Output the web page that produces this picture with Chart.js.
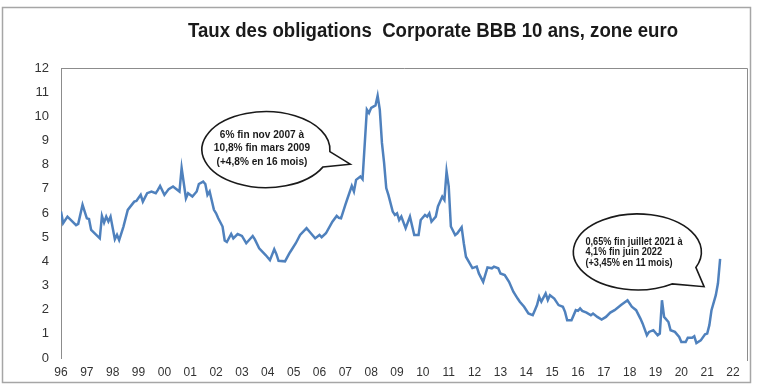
<!DOCTYPE html>
<html>
<head>
<meta charset="utf-8">
<script src="https://cdn.jsdelivr.net/npm/chart.js@4.4.1/dist/chart.umd.min.js"></script>
<style>
  html, body { margin: 0; padding: 0; background: #fff; }
  #wrap { width: 760px; height: 391px; }
</style>
</head>
<body>
<div id="wrap"><canvas id="bbbChart" width="760" height="391"></canvas></div>
<script>
// month-end readings, BBB 10y corporate yield (%), euro area
const months = [
  '1996-12', '1997-01', '1997-03', '1997-07', '1997-08', '1997-10', '1997-12',
  '1998-01', '1998-02', '1998-06', '1998-07', '1998-08', '1998-09', '1998-10', '1998-11',
  '1999-01', '1999-02', '1999-03', '1999-05', '1999-07', '1999-10', '1999-11',
  '2000-01', '2000-02', '2000-04', '2000-06', '2000-08', '2000-09', '2000-10', '2000-12',
  '2001-02', '2001-04', '2001-07', '2001-08', '2001-10', '2001-11',
  '2002-01', '2002-03', '2002-04', '2002-06', '2002-07', '2002-08', '2002-09', '2002-11', '2002-12',
  '2003-01', '2003-03', '2003-04', '2003-05', '2003-07', '2003-08', '2003-10', '2003-12',
  '2004-02', '2004-05', '2004-06', '2004-08', '2004-11',
  '2005-01', '2005-03', '2005-04', '2005-05', '2005-08', '2005-10', '2005-11',
  '2006-01', '2006-03', '2006-06', '2006-08', '2006-10', '2006-12',
  '2007-01', '2007-03', '2007-06', '2007-08', '2007-09', '2007-10', '2007-12',
  '2008-01', '2008-03', '2008-04', '2008-05', '2008-07', '2008-08', '2008-10', '2008-11', '2008-12',
  '2009-02', '2009-03', '2009-04', '2009-05', '2009-06', '2009-07', '2009-08', '2009-10', '2009-11', '2009-12',
  '2010-01', '2010-02', '2010-04', '2010-06', '2010-08', '2010-10', '2010-11',
  '2011-01', '2011-02', '2011-03', '2011-04', '2011-06', '2011-07', '2011-09', '2011-10', '2011-11', '2011-12',
  '2012-01', '2012-03', '2012-04', '2012-06', '2012-07', '2012-08', '2012-11',
  '2013-01', '2013-02', '2013-04', '2013-06', '2013-08', '2013-09', '2013-11', '2013-12',
  '2014-02', '2014-04', '2014-06', '2014-08', '2014-09', '2014-11',
  '2015-01', '2015-03', '2015-04', '2015-05', '2015-06', '2015-07', '2015-09', '2015-10', '2015-11',
  '2016-01', '2016-03', '2016-05', '2016-06', '2016-07', '2016-09', '2016-11', '2016-12',
  '2017-01', '2017-02', '2017-04', '2017-06', '2017-07', '2017-09', '2017-11',
  '2018-01', '2018-03', '2018-05', '2018-07', '2018-08', '2018-11',
  '2019-01', '2019-03', '2019-05', '2019-06', '2019-08', '2019-09', '2019-11',
  '2020-01', '2020-02', '2020-03', '2020-04', '2020-06', '2020-07', '2020-09', '2020-11', '2020-12',
  '2021-02', '2021-03', '2021-05', '2021-06', '2021-07', '2021-09', '2021-11', '2021-12',
  '2022-01', '2022-02', '2022-04', '2022-05', '2022-06'
];
const rates = [
  6.06, 5.58, 5.85, 5.5, 5.55, 6.34, 5.78,
  5.75, 5.3, 4.95, 5.88, 5.6, 5.85, 5.65, 5.85,
  4.91, 5.1, 4.88, 5.44, 6.13, 6.47, 6.5,
  6.75, 6.47, 6.82, 6.89, 6.82, 6.96, 7.12, 6.75,
  6.99, 7.1, 6.89, 7.86, 6.61, 6.82,
  6.68, 6.89, 7.2, 7.3, 7.2, 6.75, 6.89, 6.13, 5.99,
  5.78, 5.44, 4.86, 4.8, 5.13, 4.95, 5.13, 5.05,
  4.75, 5.05, 4.91, 4.54, 4.26,
  4.05, 4.5, 4.3, 4.02, 4.0, 4.33, 4.47,
  4.75, 5.09, 5.37, 5.16, 4.95, 5.09,
  5.0, 5.16, 5.64, 5.88, 5.8, 5.78, 6.34,
  6.6, 7.12, 6.89, 7.37, 7.51, 7.4, 10.28, 10.14, 10.35,
  10.45, 10.85, 10.28, 8.9, 8.07, 7.03, 6.75, 6.06, 5.92, 5.99,
  5.71, 5.85, 5.37, 5.85, 5.09, 5.09, 5.71,
  5.92, 5.85, 5.99, 5.64, 5.85, 6.27, 6.68, 6.54, 7.72, 7.1,
  5.44, 5.09, 5.16, 5.41, 4.75, 4.19, 3.72,
  3.78, 3.5, 3.15, 3.75, 3.71, 3.78, 3.71, 3.5,
  3.43, 3.15, 2.74, 2.46, 2.33, 2.12,
  1.84, 1.77, 1.98, 2.19, 2.53, 2.33, 2.67, 2.4, 2.6,
  2.46, 2.19, 2.12, 1.91, 1.56, 1.56, 1.98, 1.95,
  2.05, 1.95, 1.88, 1.77, 1.84, 1.7, 1.59,
  1.7, 1.88, 1.98, 2.12, 2.19, 2.39,
  2.12, 1.98, 1.63, 1.43, 0.94, 1.08, 1.15,
  0.94, 1.01, 2.39, 1.7, 1.49, 1.15, 1.08, 0.87, 0.66,
  0.66, 0.84, 0.84, 0.9, 0.62, 0.73, 0.98, 1.01,
  1.36, 1.98, 2.6, 3.09, 4.1
];
const yearLabels = ['96', '97', '98', '99', '00', '01', '02', '03', '04', '05', '06', '07', '08',
  '09', '10', '11', '12', '13', '14', '15', '16', '17', '18', '19', '20', '21', '22'];
const chartTitle = 'Taux des obligations  Corporate BBB 10 ans, zone euro';
const crisisNote = ['6% fin nov 2007 à', '10,8% fin mars 2009', '(+4,8% en 16 mois)'];
const recentNote = ['0,65% fin juillet 2021 à', '4,1% fin juin 2022', '(+3,45% en 11 mois)'];

// axis position: years counted from the "96" tick (Dec 1996)
const toPos = m => {
  const [y, mo] = m.split('-').map(Number);
  return ((y - 1996) * 12 + (mo - 12)) / 12;
};
const points = months.map((m, i) => ({ x: toPos(m), y: rates[i] }));

const bubbles = [
  { lines: crisisNote, cx: 7.93, cy: 8.62, rx: 64, ry: 38, a1: 0.47, a2: 0.05, tip: [11.19, 8.02],
    font: 'bold 11px "Liberation Sans", sans-serif', lh: 13.7, align: 'center', tx: -4, ty: -15 },
  { lines: recentNote, cx: 22.3, cy: 4.39, rx: 64, ry: 38, a1: 1.0, a2: 0.42, tip: [24.88, 2.95],
    font: 'bold 10px "Liberation Sans", sans-serif', lh: 10.7, align: 'left', tx: -52, ty: -10 }
];

// narrow look: squeeze text horizontally around its anchor
function squeezeText(c, text, x, y, k) {
  c.save();
  c.translate(x, y);
  c.scale(k, 1);
  c.fillText(text, 0, 0);
  c.restore();
}

const decor = {
  id: 'decor',
  beforeDraw(chart) {
    const c = chart.ctx;
    c.save();
    c.fillStyle = '#fff';
    c.fillRect(0, 0, chart.width, chart.height);
    c.restore();
  },
  afterDraw(chart) {
    const c = chart.ctx;
    const { left, right, top, bottom } = chart.chartArea;
    const xs = chart.scales.x, ys = chart.scales.y;
    c.save();
    // outer frame
    c.strokeStyle = '#a6a6a6';
    c.lineWidth = 1.5;
    c.strokeRect(2.5, 7.5, 748, 375);
    // plot border (top + right)
    c.strokeStyle = '#8c8c8c';
    c.lineWidth = 1;
    c.beginPath();
    c.moveTo(left, top + 0.5);
    c.lineTo(right + 0.5, top + 0.5);
    c.lineTo(right + 0.5, bottom + 3);
    c.stroke();
    // title
    c.fillStyle = '#1a1a1a';
    c.font = 'bold 20px "Liberation Sans", Arial, sans-serif';
    c.textAlign = 'center';
    c.textBaseline = 'middle';
    const tw = c.measureText(chartTitle).width;
    squeezeText(c, chartTitle, 433, 31, Math.min(1, 490 / tw));
    // speech bubbles
    bubbles.forEach(b => {
      const cx = xs.getPixelForValue(b.cx), cy = ys.getPixelForValue(b.cy);
      const tx = xs.getPixelForValue(b.tip[0]), ty = ys.getPixelForValue(b.tip[1]);
      c.beginPath();
      c.ellipse(cx, cy, b.rx, b.ry, 0, b.a1, b.a2 + Math.PI * 2);
      c.lineTo(tx, ty);
      c.closePath();
      c.fillStyle = '#fff';
      c.fill();
      c.strokeStyle = '#1a1a1a';
      c.lineWidth = 1.6;
      c.stroke();
      c.fillStyle = '#1a1a1a';
      c.font = b.font;
      c.textAlign = b.align;
      c.textBaseline = 'middle';
      b.lines.forEach((t, i) => squeezeText(c, t, cx + b.tx, cy + b.ty + i * b.lh, 0.92));
    });
    c.restore();
  }
};

new Chart(document.getElementById('bbbChart'), {
  type: 'line',
  data: {
    datasets: [{
      label: 'BBB 10 ans',
      data: points,
      borderColor: '#4f81bd',
      borderWidth: 2.5,
      pointRadius: 0,
      tension: 0,
      fill: false
    }]
  },
  options: {
    responsive: false,
    animation: false,
    layout: { padding: { top: 68, right: 13, left: 0, bottom: 0 } },
    plugins: { legend: { display: false }, title: { display: false }, tooltip: { enabled: false } },
    scales: {
      x: {
        type: 'linear',
        min: 0,
        max: 26.54,
        grid: { display: false, drawTicks: false },
        border: { display: false },
        afterBuildTicks: s => { s.ticks = yearLabels.map((_, i) => ({ value: i })); },
        afterFit: s => { s.height = 33; },
        ticks: {
          autoSkip: false,
          maxRotation: 0,
          padding: 7,
          color: '#333',
          font: { family: '"Liberation Sans", sans-serif', size: 12 },
          callback: (v, i) => yearLabels[i]
        }
      },
      y: {
        min: 0,
        max: 12,
        grid: { display: false, drawTicks: false },
        border: { display: true, color: '#8c8c8c', width: 1 },
        afterFit: s => { s.width = 61; },
        ticks: {
          stepSize: 1,
          padding: 12,
          color: '#333',
          font: { family: '"Liberation Sans", Arial, sans-serif', size: 13 }
        }
      }
    }
  },
  plugins: [decor]
});
</script>
</body>
</html>
